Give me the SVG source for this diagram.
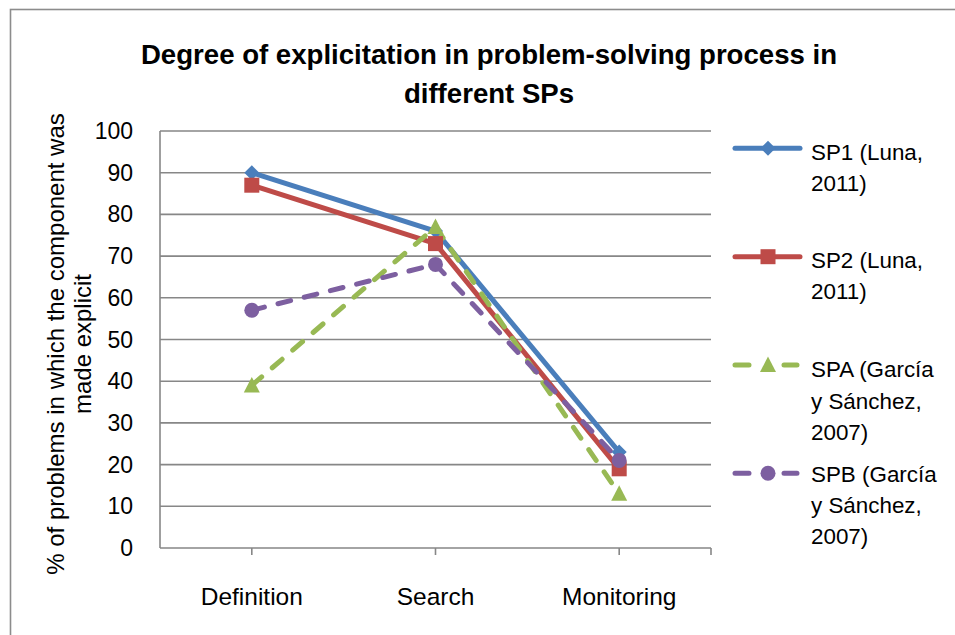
<svg xmlns="http://www.w3.org/2000/svg" width="955" height="635" viewBox="0 0 955 635">
  <style>
    text { font-family: "Liberation Sans", Arial, sans-serif; fill: #000; }
    .title { font-size: 27.6px; font-weight: bold; text-anchor: middle; }
    .tick { font-size: 23px; text-anchor: end; }
    .cat { font-size: 24.5px; text-anchor: middle; }
    .axt { font-size: 24px; text-anchor: middle; }
    .leg { font-size: 22.4px; }
    .grid { stroke: #878787; stroke-width: 1.6; fill: none; }
    .s1 { stroke: #4a7ebb; fill: #4a7ebb; }
    .s2 { stroke: #be4b48; fill: #be4b48; }
    .sa { stroke: #98b954; fill: #98b954; }
    .sb { stroke: #7d5fa0; fill: #7d5fa0; }
    .ln { fill: none; stroke-width: 5; stroke-linejoin: round; }
    .dash { stroke-dasharray: 13 14; stroke-linecap: round; }
    .mk { stroke: none; }
  </style>
  <defs>
    <path id="diamond" d="M0,-7.5 L7.5,0 L0,7.5 L-7.5,0 Z"/>
    <rect id="square" x="-7.5" y="-7.5" width="15" height="15"/>
    <path id="triangle" d="M0,-8.5 L8,7 L-8,7 Z"/>
    <circle id="dot" r="7.5"/>
  </defs>

  <rect width="955" height="635" fill="#ffffff"/>
  <!-- chart frame -->
  <rect x="10.5" y="9.5" width="960" height="640" fill="none" stroke="#8c8c8c" stroke-width="1.6"/>

  <!-- title -->
  <g id="title">
    <text class="title" x="489" y="64">Degree of explicitation in problem-solving process in</text>
    <text class="title" x="489" y="103">different SPs</text>
  </g>

  <!-- value axis -->
  <g id="value-axis">
    <g class="grid">
      <path d="M160,131H711 M160,172.7H711 M160,214.4H711 M160,256.1H711 M160,297.8H711 M160,339.5H711 M160,381.2H711 M160,422.9H711 M160,464.6H711 M160,506.3H711"/>
      <path d="M160,131V548"/>
    </g>
    <text class="tick" x="133" y="139">100</text>
    <text class="tick" x="133" y="180.7">90</text>
    <text class="tick" x="133" y="222.4">80</text>
    <text class="tick" x="133" y="264.1">70</text>
    <text class="tick" x="133" y="305.8">60</text>
    <text class="tick" x="133" y="347.5">50</text>
    <text class="tick" x="133" y="389.2">40</text>
    <text class="tick" x="133" y="430.9">30</text>
    <text class="tick" x="133" y="472.6">20</text>
    <text class="tick" x="133" y="514.3">10</text>
    <text class="tick" x="133" y="556">0</text>
    <g transform="translate(64,344) rotate(-90)">
      <text class="axt" x="0" y="0">% of problems in which the component was</text>
      <text class="axt" x="0" y="27">made explicit</text>
    </g>
  </g>

  <!-- category axis -->
  <g id="category-axis">
    <path class="grid" d="M160,548H711 M251.8,548V555 M435.5,548V555 M619.2,548V555 M711,548V555"/>
    <text class="cat" x="251.8" y="605">Definition</text>
    <text class="cat" x="435.5" y="605">Search</text>
    <text class="cat" x="619.2" y="605">Monitoring</text>
  </g>

  <!-- data series -->
  <g id="connectors">
    <polyline id="line-sp1" class="ln s1" points="251.8,172.7 435.5,231.1 619.2,452.1"/>
    <polyline id="line-sp2" class="ln s2" points="251.8,185.2 435.5,243.6 619.2,468.8"/>
    <polyline id="line-spa" class="ln dash sa" points="251.8,385.4 435.5,226.9 619.2,493.8"/>
    <polyline id="line-spb" class="ln dash sb" points="251.8,310.3 435.5,264.4 619.2,460.4"/>
  </g>

  <g id="sp1-points" class="mk s1">
    <use href="#diamond" x="251.8" y="172.7"/>
    <use href="#diamond" x="435.5" y="231.1"/>
    <use href="#diamond" x="619.2" y="452.1"/>
  </g>
  <g id="sp2-points" class="mk s2">
    <use href="#square" x="251.8" y="185.2"/>
    <use href="#square" x="435.5" y="243.6"/>
    <use href="#square" x="619.2" y="468.8"/>
  </g>
  <g id="spa-points" class="mk sa">
    <use href="#triangle" x="251.8" y="385.4"/>
    <use href="#triangle" x="435.5" y="226.9"/>
    <use href="#triangle" x="619.2" y="493.8"/>
  </g>
  <g id="spb-points" class="mk sb">
    <use href="#dot" x="251.8" y="310.3"/>
    <use href="#dot" x="435.5" y="264.4"/>
    <use href="#dot" x="619.2" y="460.4"/>
  </g>

  <!-- legend -->
  <g id="legend-sp1">
    <path class="ln s1" stroke-linecap="round" d="M735,148.3H800"/>
    <use class="mk s1" href="#diamond" x="768" y="148.3"/>
    <text class="leg" x="811" y="159.5">SP1 (Luna,</text>
    <text class="leg" x="811" y="190.5">2011)</text>
  </g>
  <g id="legend-sp2">
    <path class="ln s2" stroke-linecap="round" d="M735,256.7H800"/>
    <use class="mk s2" href="#square" x="768" y="256.7"/>
    <text class="leg" x="811" y="268">SP2 (Luna,</text>
    <text class="leg" x="811" y="299">2011)</text>
  </g>
  <g id="legend-spa">
    <path class="ln sa" stroke-linecap="round" d="M735,365H749 M784,365H797"/>
    <use class="mk sa" href="#triangle" x="768" y="365"/>
    <text class="leg" x="811" y="376.5">SPA (García</text>
    <text class="leg" x="811" y="408.5">y Sánchez,</text>
    <text class="leg" x="811" y="440">2007)</text>
  </g>
  <g id="legend-spb">
    <path class="ln sb" stroke-linecap="round" d="M735,473.3H749 M784,473.3H797"/>
    <use class="mk sb" href="#dot" x="768" y="473.3"/>
    <text class="leg" x="811" y="481.5">SPB (García</text>
    <text class="leg" x="811" y="513">y Sánchez,</text>
    <text class="leg" x="811" y="544">2007)</text>
  </g>
</svg>
